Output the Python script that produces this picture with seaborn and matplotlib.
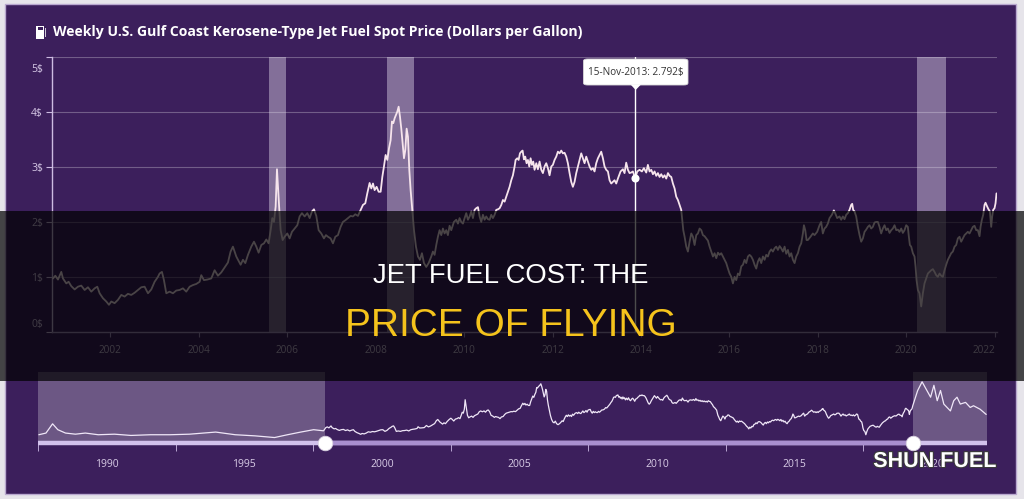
import matplotlib
matplotlib.use("Agg")
import matplotlib.pyplot as plt
import matplotlib.patheffects as pe
from matplotlib.patches import Rectangle, FancyBboxPatch, Polygon
from matplotlib.transforms import ScaledTranslation, blended_transform_factory
import seaborn as sns

# -----------------------------------------------------------------------------
# data (decimal years, dollars per gallon)
# -----------------------------------------------------------------------------
main_year = [
    2000.704, 2000.757, 2000.817, 2000.892, 2000.930, 2001.005, 2001.058, 2001.118, 2001.194, 2001.269,
    2001.344, 2001.420, 2001.495, 2001.570, 2001.646, 2001.706, 2001.759, 2001.834, 2001.910, 2001.970,
    2002.023, 2002.098, 2002.173, 2002.249, 2002.324, 2002.399, 2002.475, 2002.550, 2002.625, 2002.701,
    2002.776, 2002.852, 2002.927, 2003.002, 2003.078, 2003.115, 2003.168, 2003.213, 2003.266, 2003.341,
    2003.417, 2003.492, 2003.567, 2003.643, 2003.718, 2003.794, 2003.869, 2003.944, 2004.020, 2004.057,
    2004.118, 2004.193, 2004.283, 2004.359, 2004.434, 2004.509, 2004.585, 2004.660, 2004.720, 2004.773,
    2004.849,
    2004.947, 2005.000, 2005.053, 2005.113, 2005.188, 2005.249, 2005.302, 2005.354, 2005.415, 2005.475,
    2005.528, 2005.580, 2005.626, 2005.663, 2005.701, 2005.739, 2005.769, 2005.792, 2005.822, 2005.852,
    2005.897, 2005.942, 2006.003, 2006.055, 2006.108, 2006.168, 2006.229, 2006.281, 2006.334, 2006.394,
    2006.455, 2006.508, 2006.560, 2006.605, 2006.658, 2006.711, 2006.771, 2006.831, 2006.876, 2006.922,
    2006.982, 2007.035, 2007.088, 2007.148, 2007.208, 2007.261, 2007.314, 2007.374, 2007.435, 2007.487,
    2007.540, 2007.600, 2007.661, 2007.713, 2007.766, 2007.811, 2007.864, 2007.902, 2007.940, 2007.977,
    2008.022, 2008.068, 2008.113, 2008.151, 2008.188, 2008.226, 2008.264, 2008.302, 2008.339, 2008.369,
    2008.399, 2008.430, 2008.460, 2008.490, 2008.520, 2008.550, 2008.580, 2008.611, 2008.641, 2008.671,
    2008.701, 2008.731, 2008.761, 2008.791, 2008.822, 2008.867, 2008.912, 2008.957, 2009.002, 2009.047,
    2009.093, 2009.145, 2009.198,
    2009.258, 2009.295, 2009.333, 2009.371, 2009.408, 2009.446, 2009.484, 2009.521, 2009.559, 2009.597,
    2009.634, 2009.672, 2009.710, 2009.770, 2009.823, 2009.861, 2009.898, 2009.936, 2009.974, 2010.012,
    2010.049, 2010.087, 2010.125, 2010.162, 2010.200, 2010.238, 2010.275, 2010.313, 2010.351, 2010.388,
    2010.426, 2010.464, 2010.501, 2010.539, 2010.577, 2010.614, 2010.652, 2010.690, 2010.728, 2010.765,
    2010.803, 2010.841, 2010.878, 2010.916, 2010.954, 2010.991, 2011.029, 2011.067, 2011.104, 2011.142,
    2011.165, 2011.202, 2011.233, 2011.263, 2011.293, 2011.323, 2011.353, 2011.383, 2011.413, 2011.443,
    2011.474, 2011.504, 2011.534, 2011.564, 2011.594, 2011.632, 2011.669, 2011.707, 2011.745, 2011.782,
    2011.820, 2011.858, 2011.895, 2011.933, 2011.971, 2012.008, 2012.046, 2012.084, 2012.121, 2012.159,
    2012.197, 2012.234, 2012.272, 2012.310, 2012.347, 2012.385, 2012.423, 2012.460, 2012.498, 2012.536,
    2012.573, 2012.611, 2012.649, 2012.686, 2012.724, 2012.762, 2012.800, 2012.837, 2012.875, 2012.913,
    2012.950, 2012.988, 2013.026, 2013.063, 2013.101, 2013.139, 2013.176, 2013.214, 2013.252, 2013.289,
    2013.327, 2013.365, 2013.402, 2013.440,
    2013.478, 2013.538, 2013.591, 2013.628, 2013.666, 2013.704, 2013.741, 2013.779, 2013.817, 2013.870,
    2013.915, 2013.968, 2014.021, 2014.066, 2014.119, 2014.156, 2014.194, 2014.232, 2014.270, 2014.307,
    2014.345, 2014.383, 2014.420, 2014.458, 2014.496, 2014.533, 2014.571, 2014.609, 2014.646, 2014.684,
    2014.722, 2014.760, 2014.797, 2014.835, 2014.873, 2014.910, 2014.933, 2014.956, 2014.986, 2015.024,
    2015.061, 2015.099, 2015.137, 2015.174, 2015.212, 2015.250, 2015.287, 2015.325, 2015.363, 2015.400,
    2015.438, 2015.476, 2015.513, 2015.551, 2015.589, 2015.627, 2015.664, 2015.702, 2015.740, 2015.777,
    2015.815, 2015.853, 2015.890, 2015.928, 2015.966, 2016.003, 2016.041, 2016.079, 2016.116, 2016.154,
    2016.192, 2016.229, 2016.267, 2016.305, 2016.342, 2016.380, 2016.418, 2016.455, 2016.493, 2016.531,
    2016.568, 2016.606, 2016.644, 2016.681, 2016.719, 2016.757, 2016.795, 2016.832, 2016.870, 2016.908,
    2016.945, 2016.983, 2017.021, 2017.058, 2017.096, 2017.134, 2017.171, 2017.209, 2017.247, 2017.284,
    2017.322, 2017.360, 2017.397, 2017.435, 2017.473, 2017.510, 2017.548, 2017.586, 2017.623, 2017.661,
    2017.684, 2017.714, 2017.744,
    2017.773, 2017.833, 2017.886, 2017.924, 2017.984, 2018.037, 2018.074, 2018.112, 2018.150, 2018.187,
    2018.225, 2018.263, 2018.316, 2018.361, 2018.391, 2018.436, 2018.489, 2018.527, 2018.565, 2018.602,
    2018.640, 2018.678, 2018.715, 2018.753, 2018.776, 2018.798, 2018.829, 2018.866, 2018.904, 2018.942,
    2018.979, 2019.017, 2019.055, 2019.092, 2019.130, 2019.168, 2019.205, 2019.243, 2019.281, 2019.318,
    2019.356, 2019.394, 2019.431, 2019.469, 2019.507, 2019.545, 2019.582, 2019.620, 2019.658, 2019.695,
    2019.733, 2019.771, 2019.808, 2019.846, 2019.884, 2019.921, 2019.959, 2019.997, 2020.034, 2020.057,
    2020.080, 2020.110, 2020.148, 2020.185, 2020.208, 2020.231, 2020.261, 2020.298, 2020.336, 2020.374,
    2020.411, 2020.449, 2020.487, 2020.524, 2020.562, 2020.600, 2020.637, 2020.675, 2020.713, 2020.751,
    2020.788, 2020.826, 2020.864, 2020.901, 2020.939, 2020.977, 2021.014, 2021.052, 2021.090, 2021.127,
    2021.165, 2021.203, 2021.240, 2021.278, 2021.316, 2021.353, 2021.391, 2021.429, 2021.466, 2021.504,
    2021.542, 2021.580, 2021.617, 2021.655, 2021.678, 2021.708, 2021.738, 2021.768, 2021.791, 2021.828,
    2021.858, 2021.889, 2021.919, 2021.941, 2021.964, 2021.994, 2022.017, 2022.039,
]
main_price = [
    0.97, 1.02, 0.95, 1.09, 0.97, 0.88, 0.91, 0.83, 0.77, 0.82,
    0.84, 0.76, 0.81, 0.73, 0.79, 0.82, 0.70, 0.61, 0.55, 0.49,
    0.55, 0.52, 0.58, 0.67, 0.64, 0.69, 0.67, 0.71, 0.76, 0.81,
    0.82, 0.70, 0.77, 0.91, 1.00, 1.06, 1.09, 0.94, 0.70, 0.73,
    0.70, 0.75, 0.76, 0.79, 0.73, 0.82, 0.85, 0.87, 0.91, 1.03,
    0.94, 0.95, 0.97, 1.12, 1.02, 1.08, 1.17, 1.26, 1.46, 1.55,
    1.37,
    1.22, 1.31, 1.25, 1.40, 1.55, 1.64, 1.55, 1.44, 1.58, 1.61,
    1.68, 1.61, 1.85, 2.07, 2.00, 2.28, 2.96, 2.64, 2.22, 1.85,
    1.67, 1.73, 1.79, 1.70, 1.82, 1.88, 1.94, 2.10, 2.16, 2.10,
    2.16, 2.07, 2.19, 2.23, 2.11, 1.85, 1.79, 1.70, 1.76, 1.73,
    1.70, 1.61, 1.73, 1.76, 1.91, 2.00, 2.03, 2.07, 2.11, 2.10,
    2.14, 2.11, 2.22, 2.31, 2.34, 2.52, 2.71, 2.61, 2.70, 2.58,
    2.64, 2.55, 2.55, 2.82, 3.01, 3.22, 3.13, 3.34, 3.49, 3.83,
    3.80, 3.89, 3.95, 4.01, 4.10, 3.92, 3.70, 3.43, 3.16, 3.31,
    3.70, 3.55, 2.95, 2.58, 2.28, 1.85, 1.55, 1.37, 1.31, 1.43,
    1.25, 1.18, 1.25,
    1.37, 1.46, 1.40, 1.58, 1.73, 1.85, 1.76, 1.88, 1.79, 1.85,
    1.76, 1.93, 1.85, 2.00, 2.04, 1.97, 2.07, 2.00, 1.97, 2.07,
    2.16, 2.04, 2.10, 2.19, 2.07, 2.22, 2.25, 2.27, 2.10, 2.00,
    2.13, 2.04, 2.10, 2.05, 2.04, 2.13, 2.07, 2.13, 2.22, 2.23,
    2.25, 2.31, 2.40, 2.37, 2.46, 2.55, 2.64, 2.76, 2.85, 3.01,
    3.13, 3.16, 3.13, 3.25, 3.28, 3.30, 3.14, 3.19, 3.07, 3.13,
    3.01, 3.16, 3.04, 3.10, 2.95, 3.07, 2.96, 3.10, 2.95, 2.89,
    3.01, 3.07, 2.98, 2.85, 3.01, 3.04, 3.13, 3.19, 3.28, 3.25,
    3.30, 3.25, 3.26, 3.19, 3.07, 2.89, 2.73, 2.64, 2.73, 2.89,
    3.01, 3.13, 3.25, 3.16, 3.07, 3.19, 3.10, 3.01, 2.95, 2.98,
    2.92, 3.07, 3.16, 3.22, 3.28, 3.16, 3.01, 2.95, 2.92, 2.76,
    2.70, 2.73, 2.76, 2.70,
    2.79, 2.92, 2.96, 2.89, 3.08, 2.95, 2.89, 2.90, 2.92, 2.792,
    2.92, 2.95, 2.92, 2.98, 2.90, 3.04, 2.92, 2.95, 2.87, 2.92,
    2.84, 2.89, 2.82, 2.87, 2.81, 2.85, 2.79, 2.89, 2.84, 2.82,
    2.70, 2.61, 2.46, 2.40, 2.31, 2.22, 2.04, 1.85, 1.73, 1.55,
    1.46, 1.64, 1.79, 1.73, 1.58, 1.76, 1.79, 1.88, 1.85, 1.76,
    1.74, 1.70, 1.66, 1.55, 1.46, 1.37, 1.43, 1.34, 1.44, 1.40,
    1.43, 1.37, 1.31, 1.25, 1.15, 1.06, 1.00, 0.88, 1.00, 0.94,
    1.06, 1.03, 1.19, 1.22, 1.31, 1.25, 1.37, 1.40, 1.37, 1.31,
    1.22, 1.15, 1.28, 1.34, 1.25, 1.37, 1.31, 1.40, 1.37, 1.46,
    1.50, 1.46, 1.52, 1.55, 1.49, 1.56, 1.52, 1.46, 1.55, 1.42,
    1.49, 1.37, 1.43, 1.31, 1.25, 1.37, 1.43, 1.55, 1.61, 1.79,
    1.94, 1.85, 1.67,
    1.67, 1.73, 1.79, 1.76, 1.82, 1.94, 2.00, 1.79, 1.88, 1.91,
    1.97, 2.07, 2.13, 2.21, 2.16, 2.07, 2.10, 2.04, 2.10, 2.05,
    2.13, 2.16, 2.22, 2.31, 2.33, 2.22, 2.19, 2.10, 1.91, 1.76,
    1.64, 1.70, 1.82, 1.86, 1.91, 1.94, 1.88, 1.91, 1.99, 2.00,
    2.00, 1.91, 1.79, 1.88, 1.94, 1.85, 1.88, 1.80, 1.85, 1.88,
    1.94, 1.85, 1.86, 1.82, 1.88, 1.80, 1.85, 1.94, 1.91, 1.73,
    1.58, 1.55, 1.43, 1.37, 1.19, 0.94, 0.76, 0.70, 0.46, 0.70,
    0.88, 0.97, 1.06, 1.09, 1.12, 1.14, 1.09, 1.03, 1.00, 1.06,
    1.02, 1.00, 1.12, 1.22, 1.31, 1.37, 1.43, 1.46, 1.55, 1.58,
    1.70, 1.73, 1.64, 1.70, 1.76, 1.79, 1.82, 1.79, 1.85, 1.91,
    1.93, 1.85, 1.85, 1.74, 1.91, 2.04, 2.13, 2.31, 2.35, 2.28,
    2.23, 2.19, 1.91, 2.10, 2.22, 2.25, 2.34, 2.52,
]

# navigator only: the parts of the series outside the zoomed window
nav_early_year = [1990.27, 1990.53, 1990.77, 1990.96, 1991.24, 1991.60, 1991.96, 1992.43, 1993.02, 1993.62,
                  1994.33, 1995.04, 1995.75, 1996.70, 1997.41, 1998.13, 1998.84, 1999.31, 1999.79, 2000.26,
                  2000.62]
nav_early_price = [0.46, 0.58, 1.24, 0.82, 0.58, 0.50, 0.58, 0.46, 0.50, 0.41,
                   0.46, 0.46, 0.50, 0.65, 0.46, 0.38, 0.26, 0.46, 0.65, 0.82,
                   0.74]
nav_late_year = [2022.22, 2022.38, 2022.52, 2022.69, 2022.81, 2022.93, 2023.05, 2023.17, 2023.29, 2023.41,
                 2023.53, 2023.65, 2023.77, 2023.96, 2024.13, 2024.25, 2024.49, 2024.71]
nav_late_price = [3.62, 4.24, 3.74, 3.14, 3.99, 2.89, 3.62, 2.65, 2.41, 2.16,
                  2.89, 3.14, 2.65, 2.77, 2.41, 2.53, 2.28, 1.91]

# highlighted periods
band_start = [2005.60, 2008.25, 2020.24]
band_end = [2005.98, 2008.86, 2020.90]

year_ticks = [2002, 2004, 2006, 2008, 2010, 2012, 2014, 2016, 2018, 2020, 2022]
price_ticks = [0, 1, 2, 3, 4, 5]
price_labels = ["0$", "1$", "2$", "3$", "4$", "5$"]
nav_labels = [1990, 1995, 2000, 2005, 2010, 2015, 2020]
nav_label_shift = 2.74   # the navigator's scale labels run ahead of the dates

tip_year = 2013.870
tip_price = 2.792
tip_text = "15-Nov-2013: 2.792$"

title = "Weekly U.S. Gulf Coast Kerosene-Type Jet Fuel Spot Price (Dollars per Gallon)"

# -----------------------------------------------------------------------------
W, H = 1024, 499
def fx(x):
    return x / W
def fy(y):
    return 1 - y / H

sns.set_theme(style="dark")
plt.rcParams["font.family"] = ["Open Sans", "DejaVu Sans"]

PURPLE = "#3c1f5c"
fig = plt.figure(figsize=(10.24, 4.99), dpi=100, facecolor="#e6e4ea")
fig.add_artist(Rectangle((fx(5), fy(494)), fx(1011), 490 / H, transform=fig.transFigure,
                         facecolor=PURPLE, edgecolor="#b9a8cf", lw=1, zorder=-5))

# ---- main chart ----
x0, x1 = 2000.682, 2022.05
ax = fig.add_axes([fx(52), fy(331.7), fx(997) - fx(52), (331.7 - 57.3) / H])
ax.set_facecolor("none")
for s, e in zip(band_start, band_end):
    ax.axvspan(s, e, color="#efe8f7", alpha=0.40, lw=0, zorder=1)
for p in price_ticks[1:]:
    ax.axhline(p, color="white", alpha=0.28, lw=0.8, zorder=0.5)

sns.lineplot(x=main_year, y=main_price, ax=ax, color="#f6e4ec", lw=1.3,
             estimator=None, sort=False, zorder=3)
ax.axvline(tip_year, color="white", lw=1, zorder=4)
ax.scatter([tip_year], [tip_price], s=34, color="white", zorder=5, linewidths=0)

ax.set_xlim(x0, x1)
ax.set_ylim(0, 5)
ax.set_xticks(year_ticks)
ax.set_xticklabels([str(y) for y in year_ticks])
ax.set_yticks(price_ticks)
ax.set_yticklabels(price_labels)
ax.set_xlabel("")
ax.set_ylabel("")
for side in ["top", "right"]:
    ax.spines[side].set_visible(False)
ax.spines["left"].set_color("#cdbbe2")
ax.spines["bottom"].set_color("#a995c2")
ax.spines["left"].set_linewidth(1)
ax.spines["bottom"].set_linewidth(1)
ax.tick_params(axis="y", colors="#cdbbe2", labelcolor="#d6c8e6", length=4.3, width=0.8,
               pad=2.2, labelsize=7.5, left=True)
ax.tick_params(axis="x", colors="#a995c2", labelcolor="#cfc3dc", length=3.6, width=0.8,
               pad=6, labelsize=7.2, bottom=True)
ax.grid(False)

ylabs = ax.get_yticklabels()
ylabs[-1].set_transform(ylabs[-1].get_transform() + ScaledTranslation(0, -0.11, fig.dpi_scale_trans))
ylabs[0].set_transform(ylabs[0].get_transform() + ScaledTranslation(0, 0.09, fig.dpi_scale_trans))
xlabs = ax.get_xticklabels()
xlabs[-1].set_transform(xlabs[-1].get_transform() + ScaledTranslation(-0.11, 0, fig.dpi_scale_trans))

# ---- navigator ----
nav_year = nav_early_year + main_year + nav_late_year
nav_price = nav_early_price + main_price + nav_late_price
n0, n1 = 1990.25, 2024.74
nav = fig.add_axes([fx(38), fy(444.4), fx(987) - fx(38), (444.4 - 372) / H])
nav.set_facecolor("none")
nav.axvspan(n0, x0, color="white", alpha=0.25, lw=0, zorder=1)
nav.axvspan(x1, n1, color="white", alpha=0.25, lw=0, zorder=1)
sns.lineplot(x=nav_year, y=nav_price, ax=nav, color="#efe6f7", lw=0.9,
             estimator=None, sort=False, zorder=3)
nav.set_xlim(n0, n1)
nav.set_ylim(-0.23, 4.94)
for side in ["top", "right", "left", "bottom"]:
    nav.spines[side].set_visible(False)
nav.set_yticks([])
nav.set_xlabel("")
nav.set_ylabel("")
nav.grid(False)

bt = blended_transform_factory(nav.transData, nav.transAxes)
nav.plot([n0, n1], [0.02, 0.02], transform=bt, color="#d2c1ec", lw=3.2,
         solid_capstyle="butt", clip_on=False, zorder=4)
nav.plot([x0, x1], [0.02, 0.02], transform=bt, color="#a98fcf", lw=3.2,
         solid_capstyle="butt", clip_on=False, zorder=4)
nav.scatter([x0, x1], [0.02, 0.02], transform=bt, s=110, color="white",
            edgecolors="#d8d0e0", linewidths=0.6, clip_on=False, zorder=6)

nav_tick_pos = [y + nav_label_shift - 2.5 for y in nav_labels]
nav.set_xticks(nav_tick_pos)
nav.set_xticklabels([""] * len(nav_tick_pos))
nav.set_xticks([y + nav_label_shift for y in nav_labels], minor=True)
nav.set_xticklabels([str(y) for y in nav_labels], minor=True)
nav.tick_params(axis="x", which="major", colors="#b9a6d3", length=5, width=0.7, bottom=True)
nav.tick_params(axis="x", which="minor", length=0, pad=10.5, labelsize=7.5,
                labelcolor="#d8cce6", bottom=True)

# ---- title with pump icon ----
fig.add_artist(Rectangle((fx(36), fy(39)), 8 / W, 13 / H, transform=fig.transFigure,
                         facecolor="white", lw=0, zorder=3))
fig.add_artist(Rectangle((fx(37.5), fy(30)), 5 / W, 3.5 / H, transform=fig.transFigure,
                         facecolor=PURPLE, lw=0, zorder=4))
fig.add_artist(Rectangle((fx(45), fy(37)), 1.4 / W, 9 / H, transform=fig.transFigure,
                         facecolor="#cfc8d8", lw=0, zorder=3))
fig.text(fx(53), fy(32), title, color="white", fontsize=10.1, fontweight="bold",
         va="center", ha="left", family=["Open Sans", "DejaVu Sans"])

# ---- tooltip ----
fig.add_artist(FancyBboxPatch((fx(583.5), fy(85)), 104.5 / W, 26 / H,
                              boxstyle="round,pad=0,rounding_size=0.004",
                              transform=fig.transFigure, facecolor="white",
                              edgecolor="#d9d9d9", lw=0.6, zorder=8))
fig.add_artist(Polygon([(fx(630.5), fy(84.5)), (fx(641), fy(84.5)), (fx(635.7), fy(90))],
                       closed=True, transform=fig.transFigure, facecolor="white",
                       lw=0, zorder=8))
fig.text(fx(636), fy(72), tip_text, color="#333333", fontsize=7.2, ha="center",
         va="center", zorder=9)

# ---- dark banner with headline ----
fig.add_artist(Rectangle((0, fy(381)), 1, 170 / H, transform=fig.transFigure,
                         facecolor="black", alpha=0.7, lw=0, zorder=10))
fig.text(fx(511), fy(283), "JET FUEL COST: THE", color="white", fontsize=19.8,
         ha="center", va="baseline", family="Liberation Sans", zorder=11)
fig.text(fx(511), fy(336), "PRICE OF FLYING", color="#f5c31c", fontsize=28,
         ha="center", va="baseline", family="Liberation Sans", zorder=11)

fig.text(fx(996), fy(467), "SHUN FUEL", color="white", fontsize=15.5, fontweight="bold",
         ha="right", va="baseline", family="Liberation Sans", zorder=12,
         path_effects=[pe.withStroke(linewidth=1.6, foreground="#3a3a3a")])

fig.savefig("out.png", dpi=100, facecolor=fig.get_facecolor())
